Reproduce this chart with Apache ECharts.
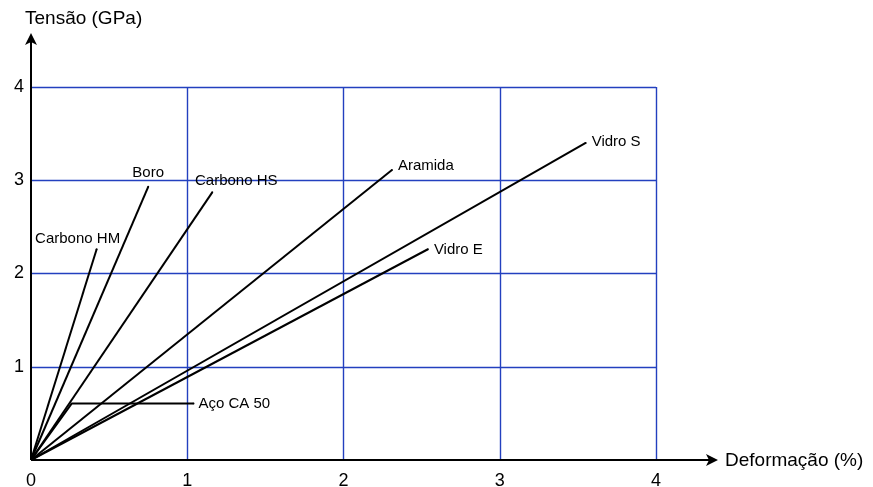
<!DOCTYPE html>
<html>
<head>
<meta charset="utf-8">
<script src="https://cdn.jsdelivr.net/npm/echarts@6/dist/echarts.min.js"></script>
<style>
html, body { margin: 0; padding: 0; background: #fff; }
#main { width: 873px; height: 487px; }
</style>
</head>
<body>
<div id="main"></div>
<script>
// materiais e ponto final de cada reta (deformação %, tensão GPa)
var materiais = ['Carbono HM', 'Boro', 'Carbono HS', 'Aramida', 'Vidro S', 'Vidro E', 'Aço CA 50'];
var deformacaoFinal = [0.42, 0.75, 1.16, 2.31, 3.55, 2.54, 1.04];
var tensaoFinal = [2.26, 2.93, 2.87, 3.11, 3.40, 2.26, 0.605];
// ponto de escoamento do aço
var acoEscoamento = [0.26, 0.605];
var ticksX = [0, 1, 2, 3, 4];
var ticksY = [0, 1, 2, 3, 4];

var fonte = 'Arial, "Liberation Sans", sans-serif';
var corGrade = '#2340bf';

// posição dos rótulos (só estilo)
var rotulos = {
	'Carbono HM': { position: 'top', offset: [-19, 3] },
	'Boro': { position: 'top', offset: [0, 0] },
	'Carbono HS': { position: 'top', offset: [24, 2] },
	'Aramida': { position: 'right', offset: [0, -4] },
	'Vidro S': { position: 'right', offset: [0, -1] },
	'Vidro E': { position: 'right', offset: [0, 1] },
	'Aço CA 50': { position: 'right', offset: [-1, 0] }
};

var series = [];
for (var i = 0; i < materiais.length; i++) {
	var nome = materiais[i];
	var pontos = [{ value: [0, 0], symbol: 'none' }];
	if (nome === 'Aço CA 50') {
		pontos.push({ value: acoEscoamento, symbol: 'none' });
	}
	pontos.push({
		value: [deformacaoFinal[i], tensaoFinal[i]],
		label: {
			show: true,
			formatter: nome,
			position: rotulos[nome].position,
			offset: rotulos[nome].offset,
			distance: 5,
			color: '#000',
			fontSize: 15,
			fontFamily: fonte
		}
	});
	series.push({
		name: nome,
		type: 'line',
		data: pontos,
		symbol: 'circle',
		symbolSize: 2,
		showSymbol: true,
		itemStyle: { color: '#000' },
		lineStyle: { color: '#000', width: 2 },
		z: 5
	});
}

var chartObj = echarts.init(document.getElementById('main'));
var option = {
	animation: false,
	backgroundColor: '#fff',
	grid: { left: 31, top: 87, right: 217, bottom: 27, outerBoundsMode: 'none', containLabel: false },
	xAxis: {
		type: 'value',
		min: ticksX[0],
		max: ticksX[ticksX.length - 1],
		interval: 1,
		axisLine: { show: false },
		axisTick: { show: false },
		axisLabel: {
			color: '#000', fontSize: 18, fontFamily: fonte, margin: 12,
			formatter: function (v) { return ticksX.indexOf(v) >= 0 ? String(v) : ''; }
		},
		splitLine: { show: true, showMinLine: false, lineStyle: { color: corGrade, width: 1.4 } }
	},
	yAxis: {
		type: 'value',
		min: ticksY[0],
		max: ticksY[ticksY.length - 1],
		interval: 1,
		axisLine: { show: false },
		axisTick: { show: false },
		axisLabel: {
			color: '#000', fontSize: 18, fontFamily: fonte, margin: 7,
			showMinLabel: false, padding: [0, 0, 9, 0],
			formatter: function (v) { return ticksY.indexOf(v) >= 0 ? String(v) : ''; }
		},
		splitLine: { show: true, showMinLine: false, lineStyle: { color: corGrade, width: 1.4 } }
	},
	series: series
};
chartObj.setOption(option);

// eixos com setas e títulos
var o = chartObj.convertToPixel({ gridIndex: 0 }, [0, 0]);
var topoY = 33, fimX = 718;
chartObj.setOption({
	graphic: [
		{ type: 'line', z: 10, shape: { x1: o[0], y1: o[1], x2: o[0], y2: topoY + 8 }, style: { stroke: '#000', lineWidth: 2 } },
		{ type: 'polygon', z: 10, shape: { points: [[o[0], topoY], [o[0] - 6, topoY + 12], [o[0], topoY + 9], [o[0] + 6, topoY + 12]] }, style: { fill: '#000' } },
		{ type: 'line', z: 10, shape: { x1: o[0], y1: o[1], x2: fimX - 8, y2: o[1] }, style: { stroke: '#000', lineWidth: 2 } },
		{ type: 'polygon', z: 10, shape: { points: [[fimX, o[1]], [fimX - 12, o[1] - 6], [fimX - 9, o[1]], [fimX - 12, o[1] + 6]] }, style: { fill: '#000' } },
		{ type: 'text', z: 10, x: 25, y: 19, style: { text: 'Tensão (GPa)', fill: '#000', fontSize: 19, fontFamily: fonte, verticalAlign: 'middle' } },
		{ type: 'text', z: 10, x: 725, y: o[1] + 1, style: { text: 'Deformação (%)', fill: '#000', fontSize: 19, fontFamily: fonte, verticalAlign: 'middle' } }
	]
});
</script>
</body>
</html>
